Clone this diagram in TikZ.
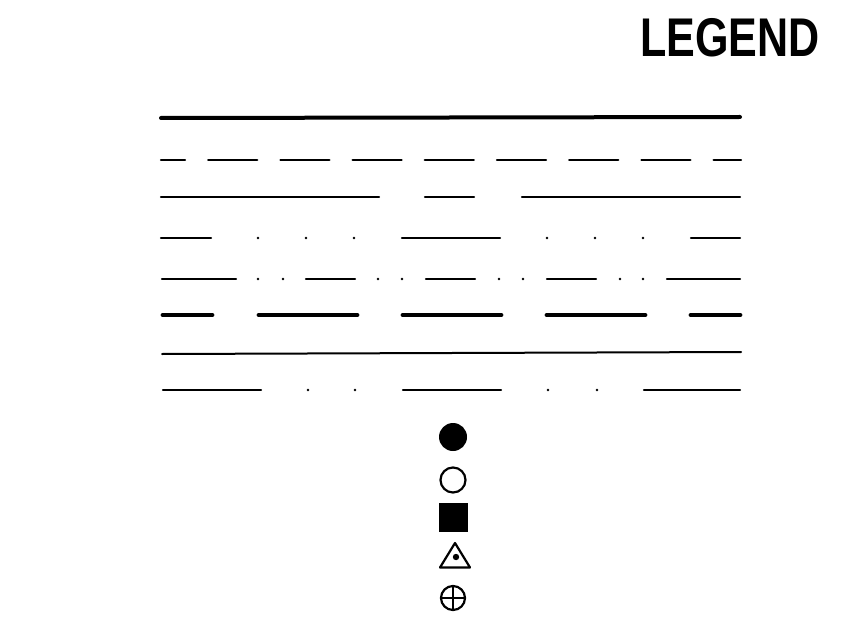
\documentclass[tikz,border=0pt]{standalone}
\usepackage{fontspec}
\newfontfamily\legendfont{Liberation Sans}
\usetikzlibrary{positioning}

\begin{document}
\begin{tikzpicture}[
  x=1pt,
  y=-1pt,
  line cap=round,
  title/.style={font=\legendfont\bfseries\fontsize{54.5}{60}\selectfont,
    inner sep=0pt,anchor=base west,xscale=0.79},
  heavyline/.style={line width=4.0pt},
  plainline/.style={line width=2.3pt},
  boldline/.style={line width=4.8pt},
  fineline/.style={line width=2.0pt},
  dashline/.style={line width=2.3pt,dash pattern=on 49pt off 23.2pt,dash phase=25pt},
  dotmark/.style={fill=black},
  symline/.style={line width=2.2pt}
]
  \useasboundingbox (0,0) rectangle (842,620);

  \node[title] (legend) at (640,57) {LEGEND};

  % line types
  \draw[heavyline] (161,118) -- (740,117);
  \draw[dashline] (161,160) -- (741,160);
  \foreach \a/\b in {161/379,425/474,522/740}
    \draw[plainline] (\a,197) -- (\b,197);
  \foreach \a/\b in {161/211,402/500,691/740}
    \draw[plainline] (\a,238) -- (\b,238);
  \foreach \a in {258,306,354,547,595,643}
    \fill[dotmark] (\a,238) circle (1.4);
  \foreach \a/\b in {162/236,306/355,426/475,547/596,667/740}
    \draw[plainline] (\a,279) -- (\b,279);
  \foreach \a in {258,283,378,402,499,523,620,643}
    \fill[dotmark] (\a,279) circle (1.4);
  \foreach \a/\b in {163/212,259/357,403/501,547/645,691/740}
    \draw[boldline] (\a,315) -- (\b,315);
  \draw[fineline] (162,354) -- (741,352);
  \foreach \a/\b in {163/261,403/501,644/740}
    \draw[plainline] (\a,390) -- (\b,390);
  \foreach \a in {308,355,548,597}
    \fill[dotmark] (\a,390) circle (1.4);

  % point symbols
  \fill (453,437) circle (14);
  \draw[symline] (453,480) circle (12.5);
  \fill (438.5,503) rectangle (467.5,532);
  \draw[symline,line join=round] (455,543) -- (470,567.5) -- (440,567.5) -- cycle;
  \fill (456,557) circle (3.2);
  \draw[symline] (453,598) circle (12);
  \draw[symline] (441,598) -- (465,598);
  \draw[symline] (453,586) -- (453,610);
\end{tikzpicture}
\end{document}
